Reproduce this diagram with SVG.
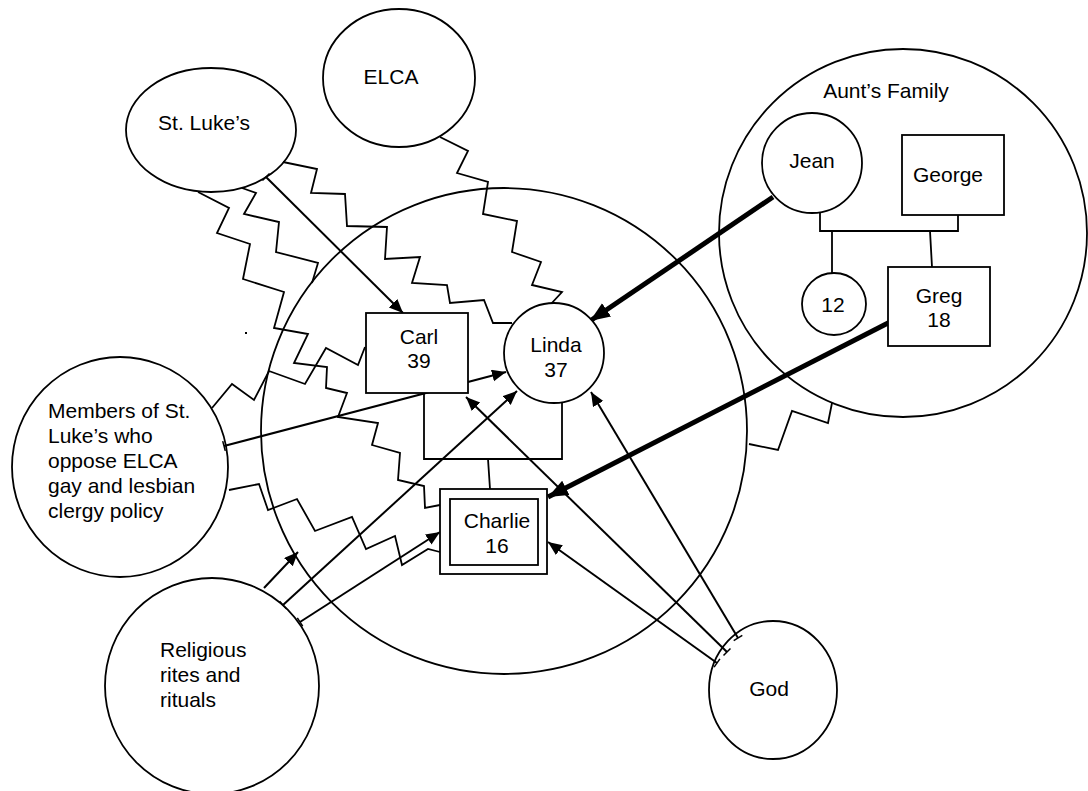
<svg xmlns="http://www.w3.org/2000/svg" width="1088" height="791" viewBox="0 0 1088 791">
<style>
.s{fill:none;stroke:#000;stroke-width:1.8}
.f{fill:#fff;stroke:#000;stroke-width:1.8}
.z{fill:none;stroke:#000;stroke-width:1.8;stroke-linejoin:miter}
.a{fill:none;stroke:#000;stroke-width:2}
.t{fill:none;stroke:#000;stroke-width:5}
text{font-family:"Liberation Sans",Arial,sans-serif;font-size:21px;fill:#000}
.c{text-anchor:middle}
</style>
<defs>
<marker id="ah" markerUnits="userSpaceOnUse" markerWidth="16" markerHeight="14" refX="14" refY="6" orient="auto"><path d="M0,0 L14,6 L0,12 z" fill="#000"/></marker>
<marker id="ahT" markerUnits="userSpaceOnUse" markerWidth="22" markerHeight="18" refX="20" refY="8" orient="auto"><path d="M0,0 L20,8 L0,16 z" fill="#000"/></marker>
<marker id="tk" markerUnits="userSpaceOnUse" markerWidth="4" markerHeight="12" refX="2" refY="6" orient="auto"><path d="M2,1 L2,11" stroke="#000" stroke-width="1.5"/></marker>
</defs>
<rect width="1088" height="791" fill="#fff"/>

<g id="family-circle"><circle class="s" cx="504" cy="431" r="243"/></g>
<g id="aunts-family"><circle class="s" cx="903" cy="233" r="184"/><text class="c" x="886" y="98">Aunt’s Family</text></g>
<g id="st-lukes"><ellipse class="f" cx="211" cy="130" rx="85" ry="62"/><text class="c" x="204" y="130">St. Luke’s</text></g>
<g id="elca"><ellipse class="f" cx="399" cy="78" rx="76" ry="69"/><text class="c" x="391" y="84">ELCA</text></g>
<g id="members"><ellipse class="f" cx="120" cy="467" rx="108" ry="110"/>
<text x="48" y="418">Members of St.</text><text x="48" y="443">Luke’s who</text><text x="48" y="468">oppose ELCA</text><text x="48" y="493">gay and lesbian</text><text x="48" y="518">clergy policy</text></g>
<g id="religious"><ellipse class="f" cx="212" cy="686" rx="107" ry="108"/>
<text x="160" y="657">Religious</text><text x="160" y="682">rites and</text><text x="160" y="707">rituals</text></g>
<g id="god"><ellipse class="f" cx="773" cy="690" rx="64" ry="69"/><text class="c" x="769" y="696">God</text></g>

<g id="connectors">
<polyline class="z" points="198,192 229,208 217,233 250,244 243,279 284,292 274,328 308,334 294,363 327,367 326,388 347,393 338,417 378,423 372,445 400,453 398,480 424,486 425,508 440,505"/>
<polyline class="z" points="242,188 256,193 244,214 279,222 276,252 318,263 312,283"/>
<polyline class="z" points="283,162 317,169 311,193 345,194 347,226 387,227 385,259 420,257 412,283 447,285 450,303 484,300 493,323 512,323"/>
<polyline class="z" points="440,137 468,151 457,173 488,182 483,214 517,221 512,252 541,262 532,285 562,292 550,305"/>
<polyline class="z" points="212,408 232,384 254,400 269,371 305,384 326,348 358,365 365,347"/>
<polyline class="z" points="229,490 259,484 268,510 297,499 315,531 352,517 366,549 395,536 402,565 428,549 440,552"/>
<polyline class="z" points="832,403 828,423 792,411 778,450 749,444"/>
<rect x="245" y="332" width="2" height="2" fill="#000"/>

<line class="a" x1="266" y1="177" x2="403" y2="313" marker-start="url(#tk)" marker-end="url(#ah)"/>
<line class="a" x1="224" y1="446" x2="506" y2="372" marker-start="url(#tk)" marker-end="url(#ah)"/>
<line class="a" x1="264" y1="588" x2="298" y2="552" marker-end="url(#ah)"/>
<line class="a" x1="283" y1="605" x2="517" y2="391" marker-start="url(#tk)" marker-end="url(#ah)"/>
<line class="a" x1="300" y1="622" x2="440" y2="532" marker-start="url(#tk)" marker-end="url(#ah)"/>
<line class="a" x1="738" y1="638" x2="591" y2="392" marker-start="url(#tk)" marker-end="url(#ah)"/>
<line class="a" x1="727" y1="652" x2="466" y2="397" marker-start="url(#tk)" marker-end="url(#ah)"/>
<line class="a" x1="717" y1="663" x2="548" y2="542" marker-start="url(#tk)" marker-end="url(#ah)"/>
<line class="t" x1="773" y1="197" x2="590" y2="321" marker-end="url(#ahT)"/>
<line class="t" x1="890" y1="322" x2="548" y2="497" marker-end="url(#ahT)"/>

<path class="s" d="M424,393 V459 H562 V403 M488,459 L490,489"/>
<path class="s" d="M820,213 V231 H958 V215 M832,231 V273 M930,231 L932,267"/>
</g>

<g id="carl"><rect class="f" x="366" y="313" width="102" height="80"/><text class="c" x="419" y="344">Carl</text><text class="c" x="419" y="368">39</text></g>
<g id="linda"><circle class="f" cx="554" cy="353" r="50"/><text class="c" x="556" y="352">Linda</text><text class="c" x="556" y="377">37</text></g>
<g id="charlie"><rect class="f" x="440" y="489" width="107" height="85"/><rect class="s" x="450" y="499" width="88" height="66"/><text class="c" x="497" y="528">Charlie</text><text class="c" x="497" y="553">16</text></g>
<g id="jean"><circle class="f" cx="812" cy="163" r="50"/><text class="c" x="812" y="168">Jean</text></g>
<g id="george"><rect class="f" x="902" y="135" width="102" height="80"/><text class="c" x="948" y="182">George</text></g>
<g id="child12"><ellipse class="f" cx="834" cy="304" rx="32" ry="31"/><text class="c" x="833" y="312">12</text></g>
<g id="greg"><rect class="f" x="888" y="267" width="102" height="79"/><text class="c" x="939" y="303">Greg</text><text class="c" x="939" y="327">18</text></g>
</svg>
